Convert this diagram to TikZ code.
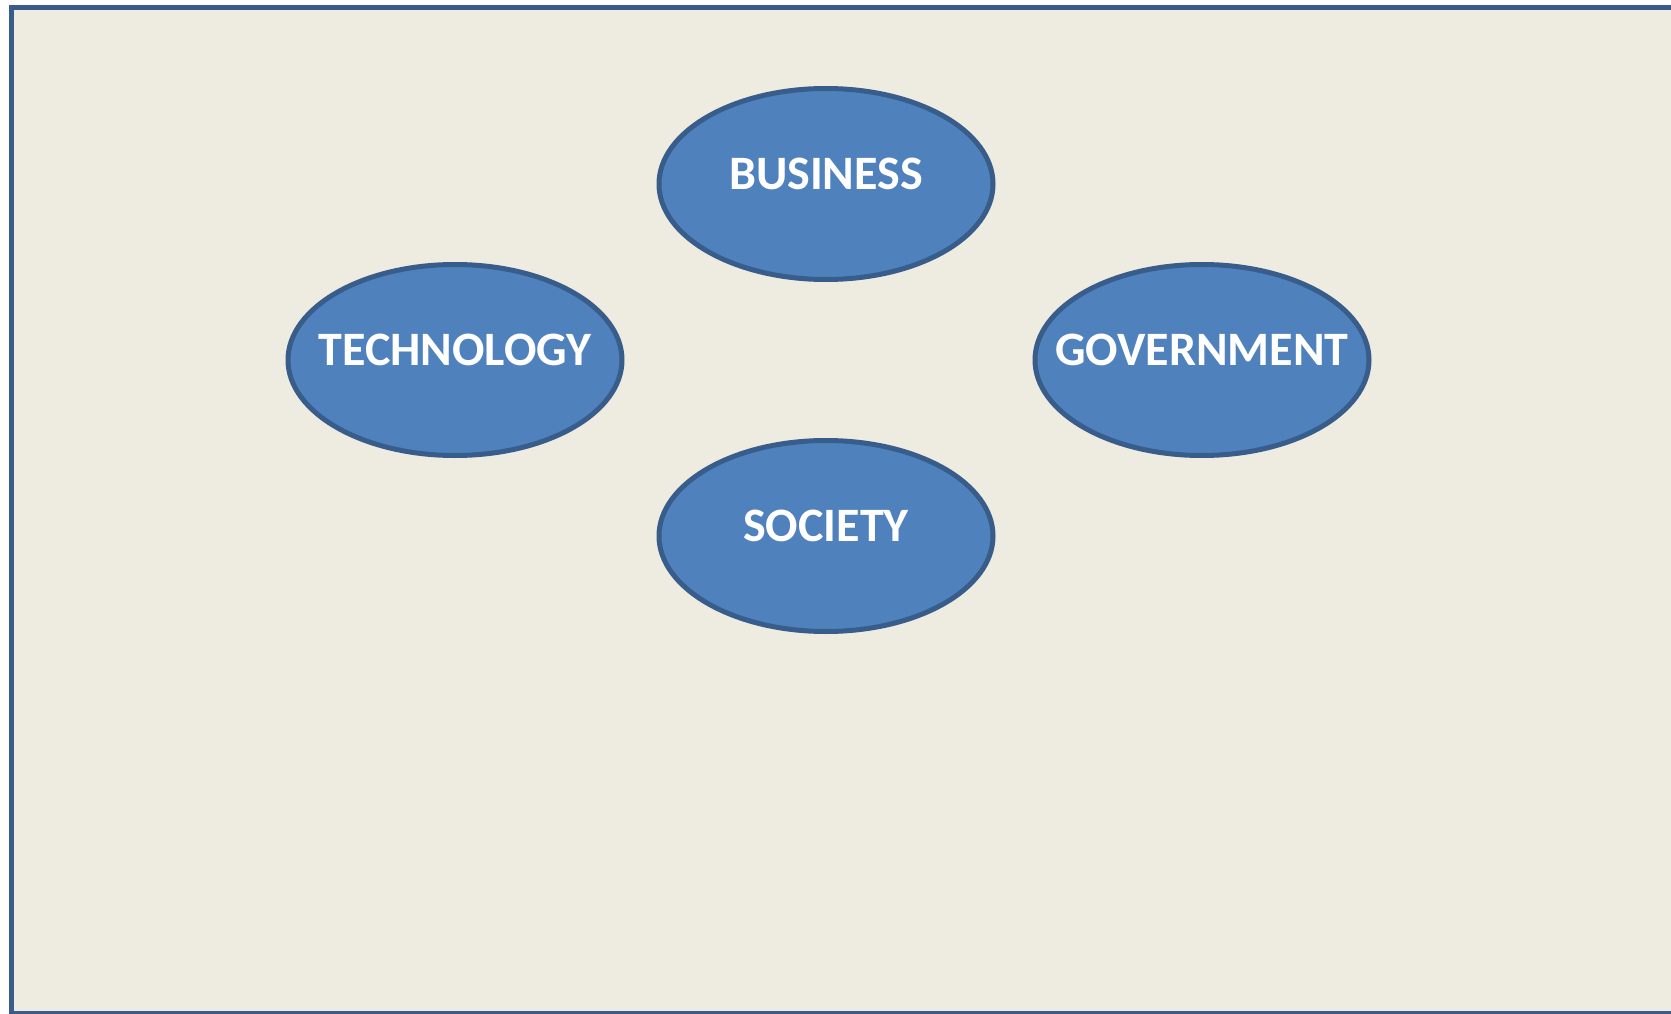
\documentclass[tikz,border=0pt]{standalone}
\usepackage{fontspec}
\setmainfont{Carlito}
\usetikzlibrary{shapes.geometric}
\definecolor{bgcol}{HTML}{EEECE1}
\definecolor{framecol}{HTML}{385D8A}
\definecolor{fillcol}{HTML}{4F81BD}
\tikzset{
  topic/.style={ellipse, draw=framecol, fill=fillcol, line width=5pt,
    minimum width=334pt, minimum height=191pt, inner sep=0pt},
  topiclabel/.style={text=white, inner sep=0pt,
    font=\fontsize{48}{58}\selectfont\bfseries}
}
\begin{document}
\begin{tikzpicture}[x=1pt,y=1pt]
\useasboundingbox (0,0) rectangle (1671,-1014);
\begin{scope}
\clip (0,0) rectangle (1671,-1014);
\fill[white] (0,0) rectangle (1671,-1014);
\draw[framecol, fill=bgcol, line width=5.5pt] (11.5,-7.5) rectangle (1700,-1013.5);
\end{scope}
\node[topic] (business) at (826,-184) {};
\node[topic] (technology) at (455,-360) {};
\node[topic] (government) at (1202,-360) {};
\node[topic] (society) at (826,-536) {};
\node[topiclabel] (businesslbl) at ([yshift=10pt]business.center) {BUSINESS};
\node[topiclabel] (technologylbl) at ([yshift=10pt]technology.center) {TECHNOLOGY};
\node[topiclabel] (governmentlbl) at ([yshift=10pt]government.center) {GOVERNMENT};
\node[topiclabel] (societylbl) at ([yshift=10pt]society.center) {SOCIETY};
\end{tikzpicture}
\end{document}
